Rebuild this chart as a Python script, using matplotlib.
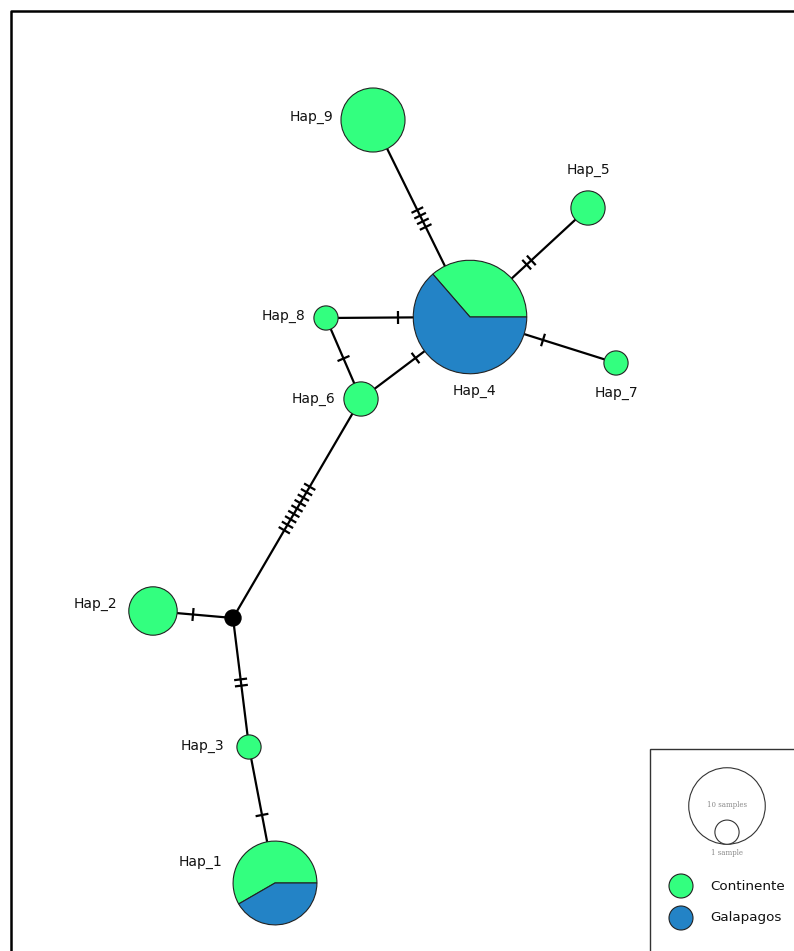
import numpy as np
import matplotlib
matplotlib.use('Agg')
import matplotlib.pyplot as plt
from matplotlib.patches import Circle, Wedge, Rectangle

# haplotype layout (pixel-like network coordinates, y grows downward)
haps = ['Hap_1', 'Hap_2', 'Hap_3', 'Hap_4', 'Hap_5', 'Hap_6', 'Hap_7', 'Hap_8', 'Hap_9']
hap_x = [275, 153, 249, 470, 588, 361, 616, 326, 373]
hap_y = [883, 611, 747, 317, 208, 399, 363, 318, 120]
continente = [7, 4, 1, 8, 2, 2, 1, 1, 7]
galapagos = [5, 0, 0, 14, 0, 0, 0, 0, 0]

# median vector
med_x, med_y = 233, 618

# label placement
lab_x = [222, 117, 224, 474, 588, 335, 616, 305, 333]
lab_y = [862, 604, 746, 391, 170, 399, 393, 316, 117]
lab_ha = ['right', 'right', 'right', 'center', 'center', 'right', 'center', 'right', 'right']

# edges: (from, to, number of mutations); 'mv' = median vector
edges = [('Hap_9', 'Hap_4', 4), ('Hap_5', 'Hap_4', 2), ('Hap_8', 'Hap_4', 1),
         ('Hap_7', 'Hap_4', 1), ('Hap_6', 'Hap_4', 1), ('Hap_8', 'Hap_6', 1),
         ('Hap_6', 'mv', 9), ('Hap_2', 'mv', 1), ('mv', 'Hap_3', 2),
         ('Hap_3', 'Hap_1', 1)]

green = '#33FF7F'
blue = '#2383C6'
scale = 12.1  # radius per sqrt(sample)

fig = plt.figure(figsize=(7.94, 9.51), dpi=100)
ax = fig.add_axes([0, 0, 1, 1])
ax.set_xlim(0, 794)
ax.set_ylim(951, 0)
ax.axis('off')

pos = {h: (x, y) for h, x, y in zip(haps, hap_x, hap_y)}
pos['mv'] = (med_x, med_y)

for a, b, k in edges:
    x0, y0 = pos[a]
    x1, y1 = pos[b]
    ax.plot([x0, x1], [y0, y1], color='black', lw=1.6, zorder=1, solid_capstyle='butt')
    d = np.array([x1 - x0, y1 - y0], dtype=float)
    d /= np.hypot(*d)
    nrm = np.array([-d[1], d[0]])
    mid = np.array([(x0 + x1) / 2, (y0 + y1) / 2])
    for i in range(k):
        c = mid + (i - (k - 1) / 2) * 6.3 * d
        p0 = c - 6.5 * nrm
        p1 = c + 6.5 * nrm
        ax.plot([p0[0], p1[0]], [p0[1], p1[1]], color='black', lw=1.6, zorder=1,
                solid_capstyle='butt')

for h, x, y, nc, ng in zip(haps, hap_x, hap_y, continente, galapagos):
    n = nc + ng
    r = scale * np.sqrt(n)
    if ng == 0:
        ax.add_patch(Circle((x, y), r, facecolor=green, edgecolor='#222222', lw=0.8, zorder=3))
    else:
        th = 360.0 * nc / n
        # y axis is inverted, so negative angles run counter-clockwise on screen
        ax.add_patch(Wedge((x, y), r, -th, 0, facecolor=green, edgecolor='#222222', lw=0.8, zorder=3))
        ax.add_patch(Wedge((x, y), r, 0, 360 - th, facecolor=blue, edgecolor='#222222', lw=0.8, zorder=3))

ax.add_patch(Circle((med_x, med_y), 8, facecolor='black', edgecolor='black', zorder=3))

for h, x, y, ha in zip(haps, lab_x, lab_y, lab_ha):
    ax.text(x, y, h, ha=ha, va='center', fontsize=10, color='#111111')

# outer frame
ax.plot([11, 11, 794], [951, 11, 11], color='black', lw=1.8, solid_capstyle='projecting')

# legend box
ax.add_patch(Rectangle((650, 749), 160, 220, facecolor='white', edgecolor='#333333', lw=1.0, zorder=4))
big_r = scale * np.sqrt(10)
small_r = scale * np.sqrt(1)
ax.add_patch(Circle((727, 806), big_r, facecolor='white', edgecolor='#333333', lw=0.8, zorder=5))
ax.add_patch(Circle((727, 806 + big_r - small_r), small_r, facecolor='white',
                    edgecolor='#333333', lw=0.8, zorder=5))
ax.text(727, 805, '10 samples', ha='center', va='center', fontsize=5, color='#888888',
        family='DejaVu Serif', zorder=6)
ax.text(727, 853, '1 sample', ha='center', va='center', fontsize=5, color='#888888',
        family='DejaVu Serif', zorder=6)
ax.add_patch(Circle((681, 886), 12, facecolor=green, edgecolor='#222222', lw=0.8, zorder=5))
ax.add_patch(Circle((681, 918), 12, facecolor=blue, edgecolor='#222222', lw=0.8, zorder=5))
ax.text(710, 886, 'Continente', ha='left', va='center', fontsize=9.7, color='#111111', zorder=6)
ax.text(710, 917, 'Galapagos', ha='left', va='center', fontsize=9.7, color='#111111', zorder=6)

fig.savefig('out.png', dpi=100)
